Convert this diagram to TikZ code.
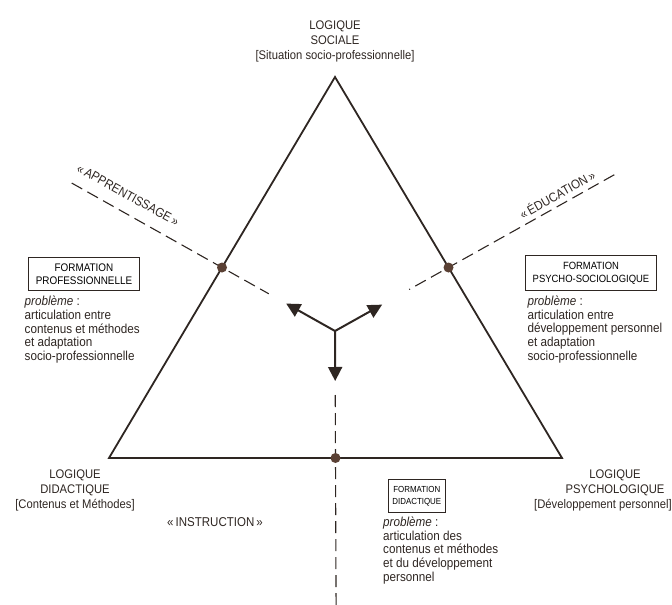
\documentclass[tikz,border=0pt]{standalone}
\usepackage{fontspec}
\setmainfont{Liberation Sans}[FakeStretch=0.9]
\usetikzlibrary{calc}
\usetikzlibrary{positioning}
\usetikzlibrary{arrows.meta}
\definecolor{encre}{HTML}{2E2622}
\definecolor{brun}{HTML}{5A4034}
\tikzset{
    side/.style = {line width=1.8pt,draw=encre,line join=miter},
    axe/.style = {line width=1.1pt,draw=encre,dash pattern=on 12pt off 6pt},
    fleche/.style = {line width=2pt,draw=encre,-{Triangle[length=14pt,width=14pt]}},
    pointn/.style = {circle,fill=brun,minimum size=10pt,inner sep=0},
    logique/.style = {align=center,text=encre,font=\fontsize{12.5}{15}\selectfont},
    cadre/.style = {rectangle,draw=encre,line width=0.8pt,align=center,inner xsep=7pt,inner ysep=6pt,font=\fontsize{10.5}{13}\selectfont},
    cadrep/.style = {cadre,inner xsep=4pt,inner ysep=6.5pt,font=\fontsize{8.8}{12}\selectfont},
    probleme/.style = {align=left,anchor=north west,inner sep=0,text=encre,font=\fontsize{13}{13.8}\selectfont},
    courant/.style = {text=encre,font=\fontsize{12.8}{14}\selectfont},
}

\begin{document}
\begin{tikzpicture}[x=1pt,y=-1pt]
\useasboundingbox (0,0) rectangle (672,605);
% sommets et centre
\coordinate (S) at (335,77);
\coordinate (D) at (109,458);
\coordinate (P) at (562,458);
\coordinate (c) at (335,331);
\coordinate (mSD) at ($(S)!0.5!(D)$);
\coordinate (mSP) at ($(S)!0.5!(P)$);
\coordinate (mDP) at ($(D)!0.5!(P)$);
%
\draw[side] (S) -- (D) -- (P) -- cycle;
\draw[axe] ($(c)!302pt!(mSD)$) -- ($(c)!76pt!(mSD)$);
\draw[axe] ($(c)!320pt!(mSP)$) -- ($(c)!85pt!(mSP)$);
\draw[axe] ($(c)!64pt!(mDP)$) -- ($(c)!274pt!(mDP)$);
\node[pointn] (pa) at (mSD) {};
\node[pointn] (pe) at (mSP) {};
\node[pointn] (pi) at (mDP) {};
%
\draw[fleche] (c) -- ($(c)!56pt!(mSD)$);
\draw[fleche] (c) -- ($(c)!54pt!(mSP)$);
\draw[fleche] (c) -- ($(c)!50pt!(mDP)$);
% logiques
\node[logique] at (335,41) (ls) {LOGIQUE\\SOCIALE\\{[}Situation socio-professionnelle]};
\node[logique] at (75,490) (ld) {LOGIQUE\\DIDACTIQUE\\{[}Contenus et Méthodes]};
\node[logique] at (615,490) (lp) {LOGIQUE\\PSYCHOLOGIQUE\\{[}Développement personnel]\hspace*{24pt}};
% axes
\node[courant,rotate=-29] at (128,195) (ta) {«\,APPRENTISSAGE\,»};
\node[courant,rotate=29] at (557,194) (te) {«\,ÉDUCATION\,»};
\node[courant] at (215,522) (ti) {«\,INSTRUCTION\,»};
% formations
\node[cadre,font=\fontsize{11}{13}\selectfont] at (84,274) (fp) {FORMATION\\PROFESSIONNELLE};
\node[cadre] at (591,273) (fs) {FORMATION\\PSYCHO-SOCIOLOGIQUE};
\node[cadrep,anchor=north west] at (388,479) (fd) {FORMATION\\DIDACTIQUE};
\node[below=5pt of fp.south west,probleme,xshift=-4pt] (pp) {\textit{problème} :\\articulation entre\\contenus et méthodes\\et adaptation\\socio-professionnelle};
\node[below=5pt of fs.south west,probleme,xshift=2pt] (ps) {\textit{problème} :\\articulation entre\\développement personnel\\et adaptation\\socio-professionnelle};
\node[below=4pt of fd.south west,probleme,xshift=-5pt] (pd) {\textit{problème} :\\articulation des\\contenus et méthodes\\et du développement\\personnel};

\end{tikzpicture}
\end{document}
